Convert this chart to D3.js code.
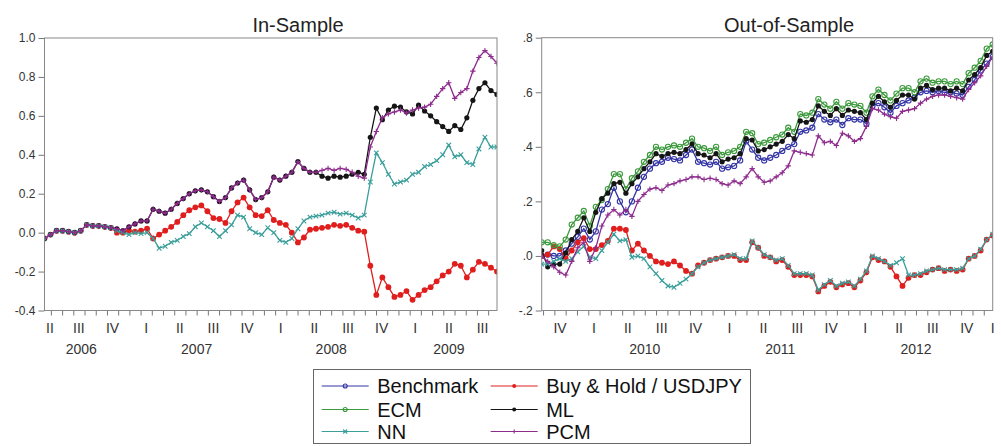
<!DOCTYPE html>
<html><head><meta charset="utf-8">
<script src="https://cdn.jsdelivr.net/npm/d3@7"></script>
<style>
body{margin:0;background:#fff}
svg{display:block}
text{font-family:Arial,"Liberation Sans",sans-serif;fill:#222}
</style>
</head><body>
<svg id="c" width="1001" height="446"></svg>
<script>
// ---------------- DATA ----------------
const seriesNames = ["Benchmark", "Buy & Hold / USDJPY", "ECM", "ML", "NN", "PCM"];
const romanQuarters = ["I", "II", "III", "IV"];
// x domain in months since Jan 2006 (weekly series, sampled regularly)
const inSampleMonths = [3.43, 43.79];
const outSampleMonths = [43.88, 83.79];
const inYTicks = [-0.4, -0.2, 0.0, 0.2, 0.4, 0.6, 0.8, 1.0];
const outYTicks = [-0.2, 0.0, 0.2, 0.4, 0.6, 0.8];
const years = [2006, 2007, 2008, 2009, 2010, 2011, 2012, 2013];

// In-sample
const inBH = [-0.03,-0.01,0.01,0.01,0.005,0.0,0.01,0.04,0.035,0.035,
 0.03,0.025,0.0,0.0,0.01,0.005,0.01,0.02,-0.03,-0.01,
 0.01,0.03,0.055,0.09,0.115,0.13,0.14,0.11,0.075,0.07,
 0.05,0.11,0.155,0.18,0.13,0.09,0.085,0.115,0.065,0.05,
 0.04,0.0,-0.05,-0.025,0.015,0.02,0.025,0.03,0.04,0.035,
 0.04,0.025,0.01,0.005,-0.17,-0.32,-0.23,-0.28,-0.33,-0.32,
 -0.30,-0.345,-0.32,-0.295,-0.28,-0.25,-0.22,-0.20,-0.16,-0.17,
 -0.23,-0.19,-0.15,-0.16,-0.18,-0.20];
const inML = [-0.03,-0.01,0.01,0.01,0.005,0.0,0.01,0.04,0.035,0.035,
 0.03,0.025,0.02,0.01,0.03,0.045,0.06,0.06,0.12,0.11,
 0.10,0.12,0.15,0.175,0.20,0.215,0.22,0.21,0.185,0.16,
 0.18,0.23,0.255,0.27,0.22,0.17,0.18,0.21,0.285,0.27,
 0.29,0.31,0.365,0.33,0.31,0.31,0.29,0.28,0.29,0.285,
 0.29,0.30,0.31,0.30,0.49,0.64,0.58,0.63,0.65,0.645,
 0.62,0.61,0.655,0.625,0.60,0.57,0.545,0.52,0.55,0.53,
 0.59,0.68,0.74,0.77,0.73,0.71];
const inNN = [-0.03,-0.01,0.01,0.01,0.005,0.0,0.01,0.04,0.035,0.035,
 0.03,0.025,0.01,0.0,-0.01,0.0,-0.005,0.0,-0.03,-0.08,
 -0.07,-0.05,-0.04,-0.02,-0.005,0.03,0.05,0.03,0.01,-0.02,
 0.01,0.04,0.09,0.08,0.02,0.0,-0.01,0.025,0.0,-0.04,
 -0.05,-0.03,0.02,0.06,0.08,0.085,0.09,0.10,0.105,0.095,
 0.10,0.09,0.075,0.09,0.26,0.41,0.36,0.30,0.25,0.26,
 0.27,0.30,0.31,0.34,0.35,0.37,0.40,0.45,0.39,0.40,
 0.36,0.35,0.43,0.49,0.44,0.44];
const inPCM = [-0.03,-0.01,0.01,0.01,0.005,0.0,0.01,0.04,0.035,0.035,
 0.03,0.025,0.02,0.01,0.03,0.045,0.06,0.06,0.12,0.11,
 0.10,0.12,0.15,0.175,0.20,0.215,0.22,0.21,0.185,0.16,
 0.18,0.23,0.255,0.27,0.22,0.17,0.18,0.21,0.285,0.27,
 0.29,0.31,0.365,0.33,0.31,0.31,0.32,0.33,0.32,0.33,
 0.325,0.31,0.29,0.28,0.44,0.52,0.59,0.61,0.62,0.63,
 0.615,0.63,0.64,0.645,0.66,0.70,0.74,0.77,0.69,0.72,
 0.74,0.83,0.90,0.935,0.905,0.87];

// Out-of-sample
const outBench = [0.0,0.005,0.0,0.0,0.02,0.045,0.07,0.10,0.06,0.09,
 0.17,0.19,0.25,0.20,0.16,0.20,0.25,0.29,0.32,0.34,
 0.345,0.36,0.355,0.35,0.37,0.39,0.345,0.34,0.335,0.345,
 0.32,0.325,0.33,0.35,0.42,0.39,0.36,0.35,0.36,0.37,
 0.385,0.40,0.41,0.455,0.46,0.47,0.52,0.50,0.49,0.50,
 0.48,0.505,0.50,0.50,0.485,0.55,0.56,0.545,0.525,0.55,
 0.56,0.57,0.58,0.60,0.605,0.60,0.605,0.60,0.60,0.595,
 0.59,0.62,0.645,0.68,0.705,0.73];
const outBH = [0.0,0.005,0.035,0.025,-0.01,0.02,0.05,0.065,0.025,0.025,
 0.04,0.055,0.10,0.10,0.095,0.02,0.045,0.02,0.0,-0.02,
 -0.025,-0.03,-0.02,-0.035,-0.055,-0.065,-0.035,-0.025,-0.015,-0.01,
 -0.005,0.0,0.0,-0.015,-0.015,0.05,0.03,0.0,-0.005,-0.02,
 -0.015,-0.04,-0.07,-0.07,-0.07,-0.075,-0.13,-0.11,-0.095,-0.115,
 -0.105,-0.10,-0.115,-0.09,-0.06,-0.005,-0.015,-0.02,-0.04,-0.075,
 -0.11,-0.08,-0.07,-0.07,-0.06,-0.05,-0.045,-0.055,-0.05,-0.055,
 -0.05,-0.01,0.0,0.02,0.06,0.075];
const outECM = [0.05,0.05,0.04,0.035,0.06,0.115,0.14,0.165,0.11,0.18,
 0.205,0.245,0.30,0.30,0.245,0.285,0.31,0.345,0.37,0.40,
 0.39,0.40,0.405,0.40,0.415,0.43,0.40,0.395,0.385,0.40,
 0.37,0.38,0.385,0.40,0.455,0.45,0.41,0.415,0.425,0.435,
 0.445,0.47,0.455,0.52,0.515,0.525,0.575,0.555,0.54,0.565,
 0.54,0.56,0.555,0.55,0.525,0.585,0.61,0.59,0.57,0.595,
 0.615,0.615,0.60,0.64,0.65,0.635,0.64,0.64,0.63,0.64,
 0.63,0.67,0.69,0.715,0.76,0.775];
const outML = [0.02,-0.04,-0.03,-0.03,0.01,0.06,0.09,0.14,0.09,0.16,
 0.21,0.23,0.265,0.27,0.23,0.265,0.29,0.32,0.345,0.375,
 0.365,0.375,0.38,0.375,0.39,0.41,0.375,0.37,0.36,0.375,
 0.345,0.355,0.36,0.375,0.43,0.425,0.385,0.39,0.40,0.41,
 0.42,0.445,0.43,0.495,0.49,0.50,0.55,0.53,0.515,0.54,
 0.515,0.535,0.53,0.525,0.50,0.56,0.585,0.565,0.545,0.57,
 0.59,0.59,0.575,0.615,0.625,0.61,0.615,0.615,0.605,0.615,
 0.605,0.645,0.665,0.69,0.735,0.75];
const outNN = [-0.03,-0.03,-0.02,-0.01,-0.02,-0.01,0.015,0.035,-0.005,-0.01,
 0.02,0.05,0.08,0.055,0.06,-0.005,0.0,-0.01,-0.04,-0.065,
 -0.09,-0.11,-0.115,-0.10,-0.085,-0.065,-0.04,-0.025,-0.015,-0.01,
 -0.005,0.0,0.005,-0.01,-0.01,0.055,0.03,0.005,-0.005,-0.015,
 -0.01,-0.035,-0.065,-0.065,-0.065,-0.07,-0.125,-0.105,-0.09,-0.11,
 -0.10,-0.095,-0.11,-0.085,-0.055,0.0,-0.01,-0.02,-0.035,-0.025,
 -0.01,-0.07,-0.07,-0.065,-0.055,-0.05,-0.045,-0.05,-0.05,-0.05,
 -0.045,-0.01,0.0,0.025,0.06,0.08];
const outPCM = [0.0,-0.02,-0.04,-0.06,-0.07,-0.02,0.03,0.05,-0.02,0.03,
 0.11,0.15,0.17,0.15,0.17,0.145,0.20,0.225,0.245,0.25,
 0.24,0.26,0.265,0.275,0.28,0.29,0.29,0.28,0.285,0.28,
 0.265,0.26,0.275,0.265,0.29,0.32,0.29,0.27,0.275,0.29,
 0.305,0.33,0.385,0.38,0.375,0.37,0.44,0.415,0.42,0.405,
 0.45,0.44,0.42,0.43,0.475,0.54,0.535,0.52,0.51,0.505,
 0.53,0.535,0.54,0.56,0.575,0.585,0.59,0.59,0.585,0.58,
 0.575,0.61,0.635,0.66,0.695,0.73];

// ---------------- STYLE ----------------
const styles = {
  "Benchmark": {color: "#3434a6", marker: "ring", r: 2.6},
  "Buy & Hold / USDJPY": {color: "#e01e1e", marker: "dot", r: 2.9},
  "ECM": {color: "#3b9a3b", marker: "ring", r: 2.6},
  "ML": {color: "#151515", marker: "dot", r: 2.6},
  "NN": {color: "#3a9e9a", marker: "x", r: 2.3},
  "PCM": {color: "#8e2c8e", marker: "plus", r: 2.7}
};

const panels = [
  {title: "In-Sample", titleX: 298, x0: 44.5, x1: 497, y0: 38, y1: 310.5,
   months: inSampleMonths, yDom: [-0.4, 1.0], yTicks: inYTicks,
   fmt: v => v.toFixed(1),
   series: [["Buy & Hold / USDJPY", inBH], ["ML", inML], ["NN", inNN], ["PCM", inPCM]]},
  {title: "Out-of-Sample", titleX: 789, x0: 541.7, x1: 992.7, y0: 37.7, y1: 310.5,
   months: outSampleMonths, yDom: [-0.2, 0.8], yTicks: outYTicks,
   fmt: v => v.toFixed(1).replace(/^(-?)0\./, "$1."),
   series: [["Benchmark", outBench], ["Buy & Hold / USDJPY", outBH], ["ECM", outECM],
            ["ML", outML], ["NN", outNN], ["PCM", outPCM]]}
];

const svg = d3.select("#c");

function drawMarker(g, type, color, r) {
  if (type === "ring") {
    g.append("circle").attr("r", r).attr("fill", "none").attr("stroke", color).attr("stroke-width", 1.1);
  } else if (type === "dot") {
    g.append("circle").attr("r", r).attr("fill", color);
  } else if (type === "x") {
    g.append("path").attr("d", `M${-r},${-r}L${r},${r}M${-r},${r}L${r},${-r}`)
      .attr("stroke", color).attr("stroke-width", 1.1).attr("fill", "none");
  } else if (type === "plus") {
    g.append("path").attr("d", `M0,${-r}V${r}M${-r},0H${r}`)
      .attr("stroke", color).attr("stroke-width", 1.1).attr("fill", "none");
  }
}

panels.forEach((p, pi) => {
  const x = d3.scaleLinear().domain(p.months).range([p.x0, p.x1]);
  const y = d3.scaleLinear().domain(p.yDom).range([p.y1, p.y0]);
  const g = svg.append("g");

  g.append("text").attr("x", p.titleX).attr("y", 32).attr("text-anchor", "middle")
    .style("font-size", "20px").text(p.title);

  const cid = "clip" + pi;
  svg.append("clipPath").attr("id", cid).append("rect")
    .attr("x", p.x0).attr("y", p.y0 - 4).attr("width", p.x1 - p.x0).attr("height", p.y1 - p.y0 + 8);

  const yAxis = d3.axisLeft(y).tickValues(p.yTicks).tickFormat(p.fmt).tickSize(6).tickPadding(3);
  const ya = g.append("g").attr("transform", `translate(${p.x0},0)`).call(yAxis);
  ya.select(".domain").remove();
  ya.selectAll("line").attr("stroke", "#777");
  ya.selectAll("text").style("font-size", "12px").style("fill", "#333").style("font-family", "Arial, 'Liberation Sans', sans-serif");

  const mTicks = d3.range(Math.ceil(p.months[0]), Math.floor(p.months[1]) + 1);
  const xAxis = d3.axisBottom(x).tickValues(mTicks).tickFormat("").tickSize(5);
  const xa = g.append("g").attr("transform", `translate(0,${p.y1})`).call(xAxis);
  xa.select(".domain").remove();
  xa.selectAll("line").attr("stroke", "#777");

  const qLabels = [];
  for (let m = 0; m <= 84; m += 3) {
    const lm = m + 0.5;
    if (lm >= p.months[0] && lm <= p.months[1] + 1) {
      let px = x(lm);
      px = Math.max(p.x0 + 5.5, Math.min(p.x1, px));
      qLabels.push({year: 2006 + Math.floor(m / 12), q: (m / 3) % 4, px});
    }
  }
  g.selectAll(".ql").data(qLabels).enter().append("text")
    .attr("x", d => d.px).attr("y", 333).attr("text-anchor", "middle")
    .style("font-size", "14px").style("fill", "#333").text(d => romanQuarters[d.q]);
  years.forEach(yr => {
    const qs = qLabels.filter(d => d.year === yr);
    if (qs.length >= 2) {
      const cx = (qs[0].px + qs[qs.length - 1].px) / 2;
      g.append("text").attr("x", cx).attr("y", 354).attr("text-anchor", "middle")
        .style("font-size", "14px").style("fill", "#333").text(yr);
    }
  });

  const plot = g.append("g").attr("clip-path", `url(#${cid})`);
  p.series.forEach(([name, vals]) => {
    const st = styles[name];
    const n = vals.length;
    const pts = vals.map((v, i) => [p.months[0] + i * (p.months[1] - p.months[0]) / (n - 1), v]);
    plot.append("path").datum(pts)
      .attr("d", d3.line().x(d => x(d[0])).y(d => y(d[1])))
      .attr("fill", "none").attr("stroke", st.color).attr("stroke-width", 1.3);
    pts.forEach(d => {
      const mg = plot.append("g").attr("transform", `translate(${x(d[0])},${y(d[1])})`);
      drawMarker(mg, st.marker, st.color, st.r);
    });
  });

  g.append("rect").attr("x", p.x0).attr("y", p.y0).attr("width", p.x1 - p.x0).attr("height", p.y1 - p.y0)
    .attr("fill", "none").attr("stroke", "#888").attr("stroke-width", 1);
});

const lg = svg.append("g");
lg.append("rect").attr("x", 313.5).attr("y", 369.5).attr("width", 437).attr("height", 74)
  .attr("fill", "#fff").attr("stroke", "#666").attr("stroke-width", 1);
const colX = [321.7, 490.7];
const rowY = [386, 409.5, 431.5];
seriesNames.forEach((name, i) => {
  const cx = colX[i % 2], cy = rowY[Math.floor(i / 2)];
  const st = styles[name];
  lg.append("line").attr("x1", cx).attr("x2", cx + 47).attr("y1", cy).attr("y2", cy)
    .attr("stroke", st.color).attr("stroke-width", 1);
  const mg = lg.append("g").attr("transform", `translate(${cx + 23.5},${cy})`);
  drawMarker(mg, st.marker, st.color, 2);
  lg.append("text").attr("x", cx + 55.5).attr("y", cy + 7).style("font-size", "20px").style("fill", "#111").text(name);
});
</script>
</body></html>
